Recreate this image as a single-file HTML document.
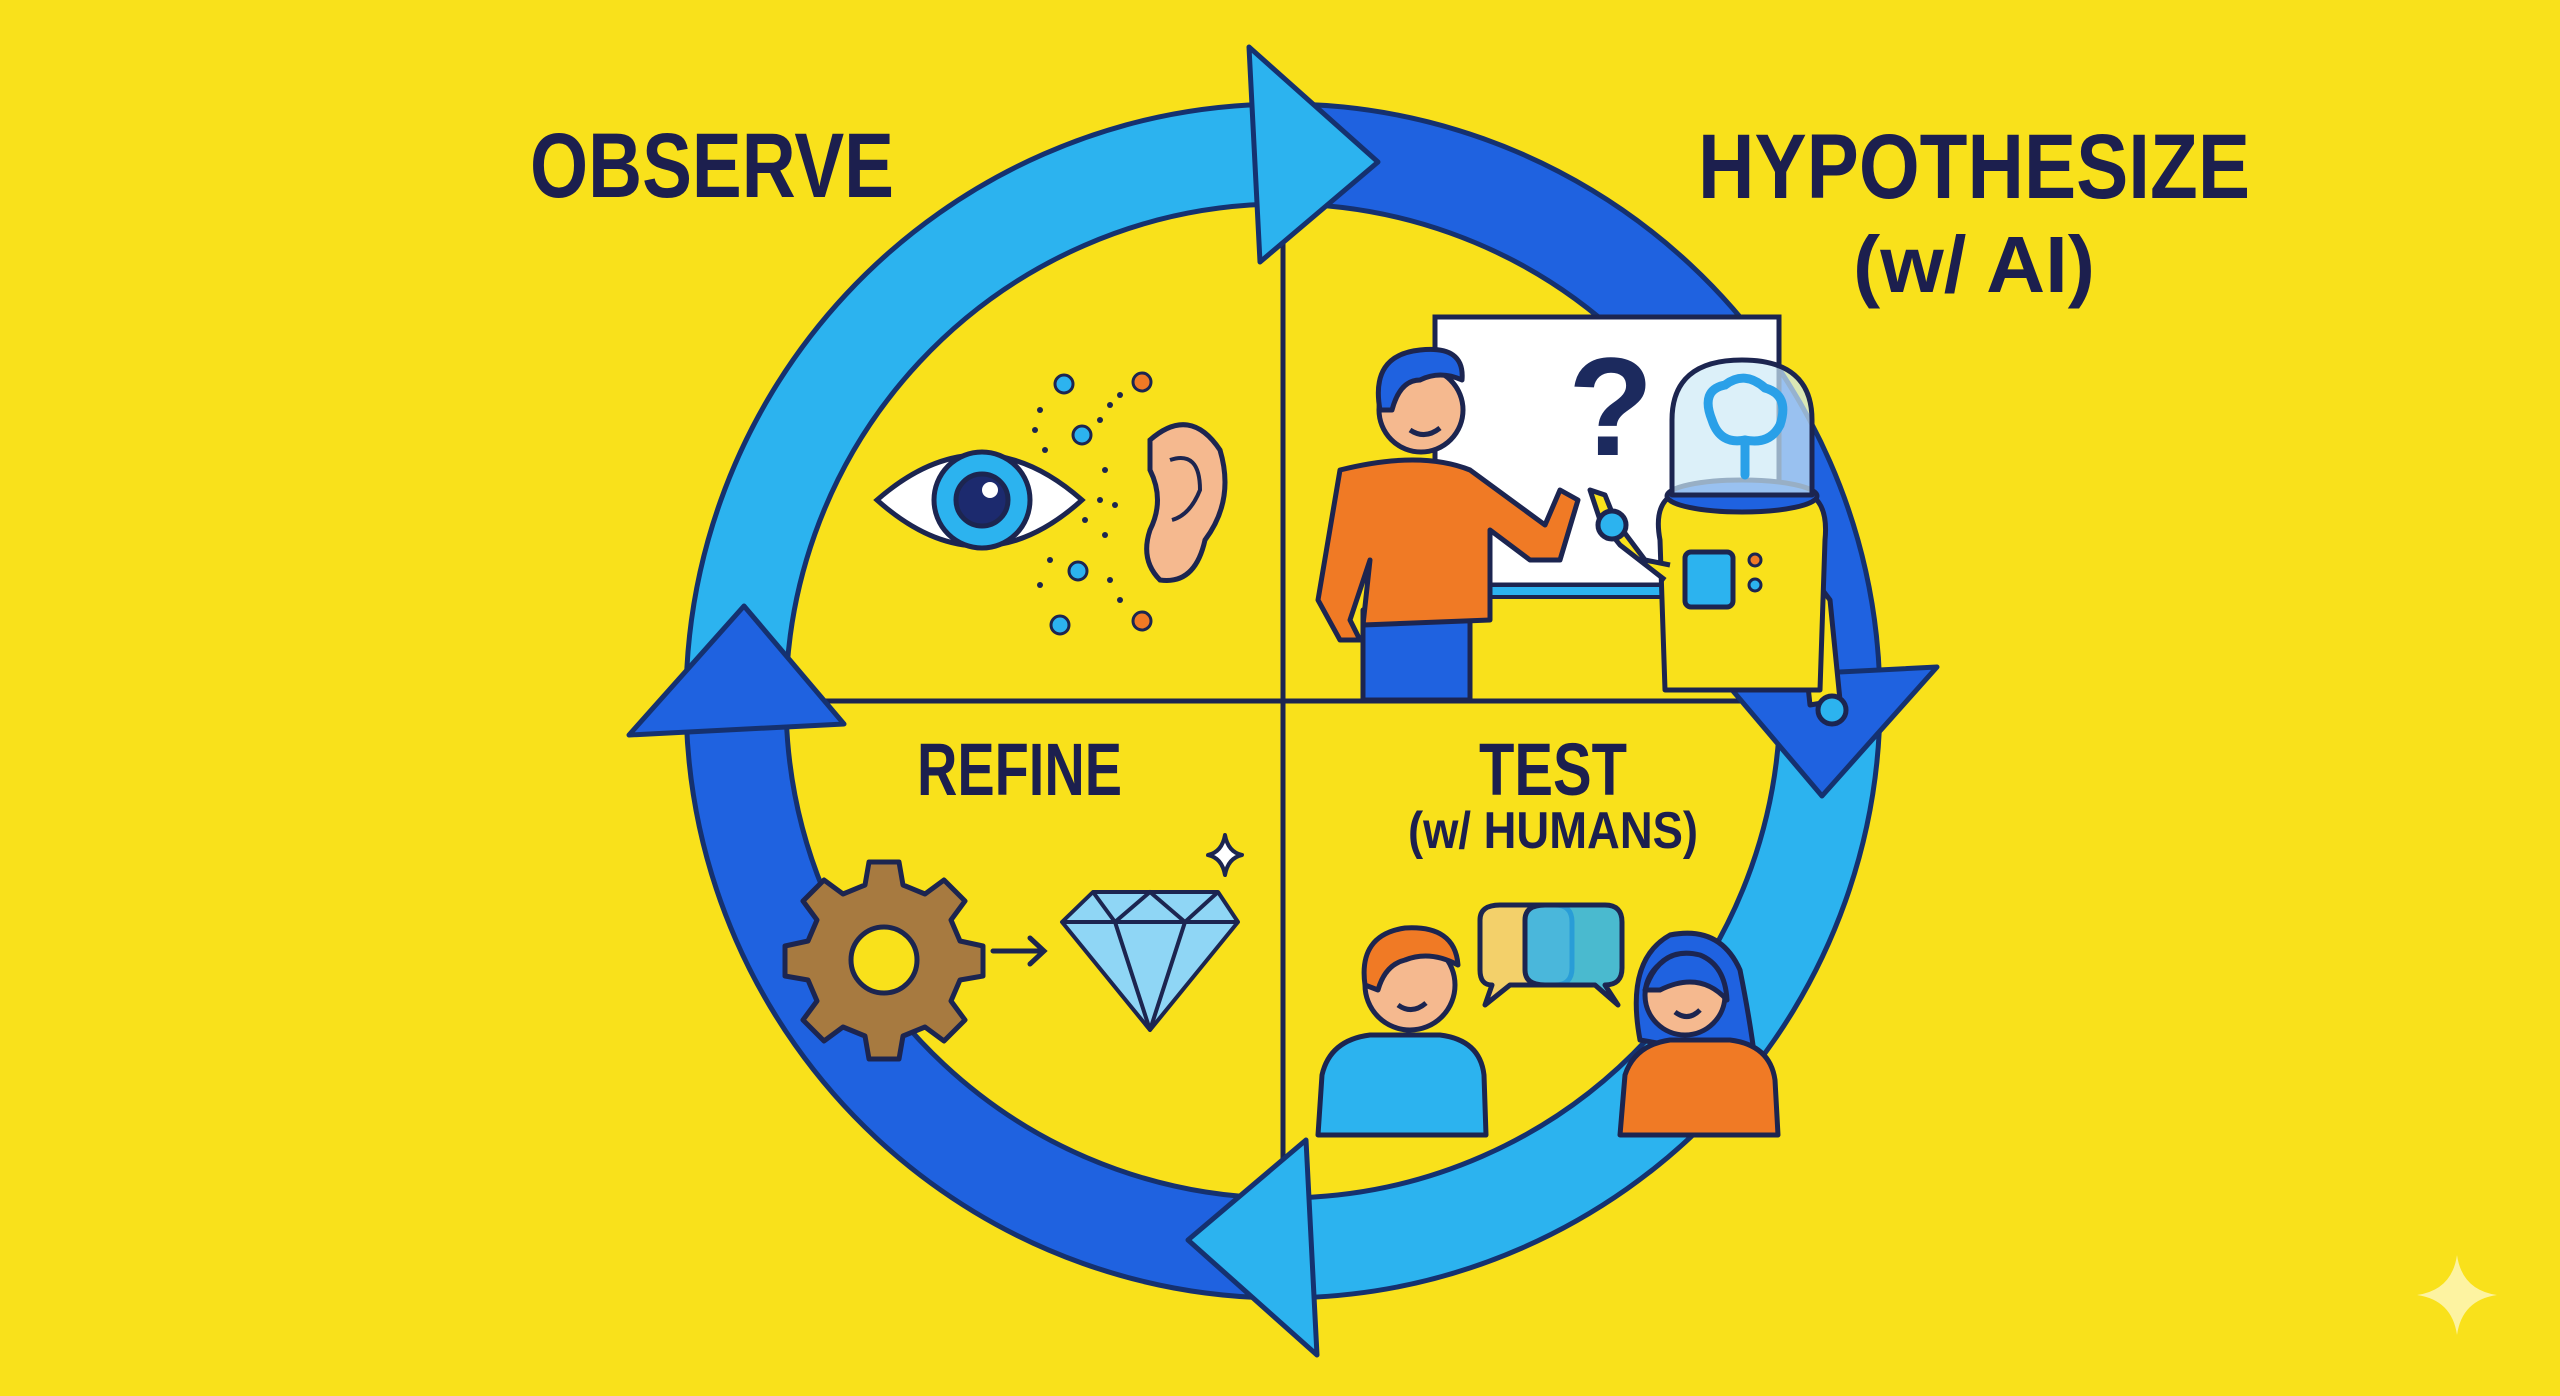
<!DOCTYPE html>
<html><head><meta charset="utf-8"><style>
html,body{margin:0;padding:0;background:#f9e11b;}
svg{display:block}
text{font-family:"Liberation Sans",sans-serif;font-weight:bold;fill:#1c1f4e}
</style></head><body>
<svg width="2560" height="1396" viewBox="0 0 2560 1396" xmlns="http://www.w3.org/2000/svg">
<rect width="2560" height="1396" fill="#f9e11b"/>
<text x="530" y="197" font-size="92" textLength="364" lengthAdjust="spacingAndGlyphs">OBSERVE</text>
<text x="1698" y="198" font-size="92" textLength="552" lengthAdjust="spacingAndGlyphs">HYPOTHESIZE</text>
<text x="1853" y="292" font-size="80" textLength="242" lengthAdjust="spacingAndGlyphs">(w/ AI)</text>
<text x="917" y="795" font-size="74" textLength="205" lengthAdjust="spacingAndGlyphs">REFINE</text>
<text x="1479" y="795" font-size="74" textLength="148" lengthAdjust="spacingAndGlyphs">TEST</text>
<text x="1408" y="848" font-size="52" textLength="290" lengthAdjust="spacingAndGlyphs">(w/ HUMANS)</text>

<g stroke="#1c2550" stroke-width="5">
<line x1="1283" y1="205" x2="1283" y2="1198"/>
<line x1="787" y1="701" x2="1779" y2="701"/>
</g>

<g stroke="#15316f" stroke-width="5" stroke-linejoin="round">
<path d="M686.4,721.8 A597,597 0 0 1 1262.2,104.4 L1265.7,204.3 A497,497 0 0 0 786.3,718.3 Z" fill="#2cb3ef"/>
<path d="M1262.2,104.4 A597,597 0 0 1 1879.6,680.2 L1779.7,683.7 A497,497 0 0 0 1265.7,204.3 Z" fill="#1f62e0"/>
<path d="M1879.6,680.2 A597,597 0 0 1 1303.8,1297.6 L1300.3,1197.7 A497,497 0 0 0 1779.7,683.7 Z" fill="#2cb3ef"/>
<path d="M1303.8,1297.6 A597,597 0 0 1 686.4,721.8 L786.3,718.3 A497,497 0 0 0 1300.3,1197.7 Z" fill="#1f62e0"/>
<path d="M1249,47 L1378,162 L1260,262 Z" fill="#2cb3ef"/>
<path d="M1937,667 L1822,796 L1722,678 Z" fill="#1f62e0"/>
<path d="M1317,1355 L1188,1240 L1306,1140 Z" fill="#2cb3ef"/>
<path d="M629,735 L744,606 L844,724 Z" fill="#1f62e0"/>
</g>

<g stroke="#1c2550" stroke-width="5">
<path d="M877,500 Q980,410 1082,500 Q980,592 877,500 Z" fill="#fff"/>
<circle cx="982" cy="500" r="48" fill="#2cb3ef"/>
<circle cx="982" cy="500" r="26" fill="#1c2a6e"/>
</g>
<circle cx="990" cy="490" r="8" fill="#fff"/>
<path d="M1150,440 Q1190,405 1220,450 Q1235,500 1205,540 Q1195,585 1160,580 Q1140,560 1150,530 Q1165,500 1150,470 Z" fill="#f5b98f" stroke="#1c2550" stroke-width="5"/>
<path d="M1170,460 Q1200,450 1200,490 Q1190,515 1172,520" fill="none" stroke="#1c2550" stroke-width="4"/>
<g stroke="#1c2550" stroke-width="3">
<circle cx="1064" cy="384" r="9" fill="#2cb3ef"/>
<circle cx="1142" cy="382" r="9" fill="#f07a25"/>
<circle cx="1082" cy="435" r="9" fill="#2cb3ef"/>
<circle cx="1078" cy="571" r="9" fill="#2cb3ef"/>
<circle cx="1060" cy="625" r="9" fill="#2cb3ef"/>
<circle cx="1142" cy="621" r="9" fill="#f07a25"/>
</g>
<g fill="#1c2550">
<circle cx="1040" cy="410" r="3"/><circle cx="1035" cy="430" r="3"/><circle cx="1045" cy="450" r="3"/>
<circle cx="1110" cy="405" r="3"/><circle cx="1120" cy="395" r="3"/><circle cx="1100" cy="420" r="3"/>
<circle cx="1105" cy="470" r="3"/><circle cx="1100" cy="500" r="3"/><circle cx="1115" cy="505" r="3"/>
<circle cx="1105" cy="535" r="3"/><circle cx="1050" cy="560" r="3"/><circle cx="1040" cy="585" r="3"/>
<circle cx="1110" cy="580" r="3"/><circle cx="1120" cy="600" r="3"/><circle cx="1085" cy="520" r="3"/>
</g>

<rect x="1435" y="317" width="344" height="268" fill="#fff" stroke="#1c2550" stroke-width="5"/>
<rect x="1435" y="585" width="344" height="12" fill="#2cb3ef" stroke="#1c2550" stroke-width="4"/>
<text x="1568" y="455" font-size="140" style="fill:#1c2a5e">?</text>
<g stroke="#1c2550" stroke-width="5" stroke-linejoin="round">
<rect x="1363" y="610" width="107" height="90" fill="#1f62e0"/>
<path d="M1340,470 Q1420,450 1470,470 L1545,525 L1560,490 L1578,500 L1560,560 L1530,560 L1490,530 L1490,620 L1363,625 L1370,560 L1350,620 L1360,640 L1340,640 L1318,600 Z" fill="#f07a25"/>
<circle cx="1421" cy="410" r="42" fill="#f5b98f"/>
<path d="M1380,410 Q1370,355 1420,350 Q1465,345 1462,380 Q1440,370 1420,380 Q1400,380 1392,410 Z" fill="#1f62e0"/>
<path d="M1410,430 Q1425,440 1440,428" fill="none"/>
</g>
<g stroke="#1c2550" stroke-width="5" stroke-linejoin="round">
<path d="M1800,560 L1830,600 L1840,700 L1810,705 L1800,610 Z" fill="#f9e11b"/>
<circle cx="1832" cy="710" r="14" fill="#2cb3ef"/>
<path d="M1660,540 Q1650,487 1700,490 L1790,490 Q1830,490 1825,540 L1820,690 L1665,690 Z" fill="#f9e11b"/>
<ellipse cx="1742" cy="496" rx="75" ry="16" fill="#1f62e0"/>
<path d="M1672,495 L1672,420 Q1672,360 1742,360 Q1812,360 1812,420 L1812,495 Z" fill="#cde9f7" fill-opacity="0.7"/>
<rect x="1685" y="552" width="48" height="55" rx="6" fill="#2cb3ef"/>
<circle cx="1755" cy="560" r="6" fill="#f07a25" stroke-width="3"/>
<circle cx="1755" cy="585" r="6" fill="#2cb3ef" stroke-width="3"/>
<path d="M1665,580 L1620,545 L1600,520 L1590,490 L1605,495 L1615,520 L1645,560 L1670,565" fill="#f9e11b"/>
<circle cx="1612" cy="525" r="14" fill="#2cb3ef"/>
</g>
<g fill="none" stroke="#2aa0e8" stroke-width="9" stroke-linecap="round">
<path d="M1712,420 Q1700,390 1725,385 Q1745,370 1765,388 Q1790,395 1780,425 Q1770,445 1745,440 Q1720,445 1712,420 Z"/>
<path d="M1745,440 L1745,475"/>
</g>

<g stroke="#1c2550" stroke-width="5" stroke-linejoin="round">
<path d="M869,862 L899,862 L903,885 L925,894 L944,880 L965,901 L951,920 L960,941 L983,946 L983,976 L960,980 L951,1001 L965,1020 L944,1041 L925,1027 L903,1036 L899,1059 L869,1059 L865,1036 L843,1027 L824,1041 L803,1020 L817,1001 L808,980 L785,976 L785,946 L808,941 L817,920 L803,901 L824,880 L843,894 L865,885 Z" fill="#a77a40"/>
<circle cx="884" cy="960" r="33" fill="#f9e11b"/>
</g>
<g stroke="#1c2550" stroke-width="5" fill="none" stroke-linecap="round">
<path d="M993,951 L1043,951 M1030,938 L1044,951 L1030,964"/>
</g>
<g stroke="#1c2550" stroke-width="4" stroke-linejoin="round">
<path d="M1093,892 L1218,892 L1238,922 L1150,1030 L1062,922 Z" fill="#8fd6f5"/>
<path d="M1062,922 L1238,922 M1093,892 L1115,922 L1150,1030 L1185,922 L1218,892 M1115,922 L1150,892 L1185,922" fill="none"/>
<path d="M1225,835 Q1228,852 1242,855 Q1228,858 1225,875 Q1222,858 1208,855 Q1222,852 1225,835 Z" fill="#fff"/>
</g>

<g stroke="#1c2550" stroke-width="5" stroke-linejoin="round">
<path d="M1318,1135 L1322,1075 Q1330,1040 1370,1035 L1440,1035 Q1480,1040 1484,1075 L1486,1135 Z" fill="#2cb3ef"/>
<circle cx="1410" cy="985" r="45" fill="#f5b98f"/>
<path d="M1365,985 Q1358,935 1405,928 Q1455,925 1458,965 Q1430,950 1405,960 Q1385,965 1378,990 Z" fill="#f07a25"/>
<path d="M1398,1005 Q1412,1015 1426,1003" fill="none"/>
<path d="M1480,920 Q1480,905 1500,905 L1555,905 Q1572,905 1572,922 L1572,968 Q1572,985 1555,985 L1510,985 L1485,1005 L1492,985 Q1480,985 1480,970 Z" fill="#f3d06a"/>
<path d="M1525,920 Q1525,905 1545,905 L1605,905 Q1622,905 1622,922 L1622,968 Q1622,985 1605,985 L1618,1005 L1595,985 L1545,985 Q1525,985 1525,970 Z" fill="#2cb3ef" fill-opacity="0.85"/>
<path d="M1640,1040 Q1625,960 1670,935 Q1720,925 1740,970 Q1750,1020 1755,1060 Z" fill="#1f62e0"/>
<path d="M1620,1135 L1625,1075 Q1635,1045 1670,1040 L1730,1040 Q1770,1045 1775,1080 L1778,1135 Z" fill="#f07a25"/>
<circle cx="1685" cy="995" r="40" fill="#f5b98f"/>
<path d="M1645,990 Q1660,945 1700,955 Q1725,965 1727,1000 Q1700,970 1660,990 Z" fill="#1f62e0"/>
<path d="M1675,1012 Q1688,1022 1700,1010" fill="none"/>
</g>

<path d="M2457,1255 Q2462,1290 2497,1295 Q2462,1300 2457,1335 Q2452,1300 2417,1295 Q2452,1290 2457,1255 Z" fill="#fdf5b0" opacity="0.9"/>
</svg>
</body></html>
